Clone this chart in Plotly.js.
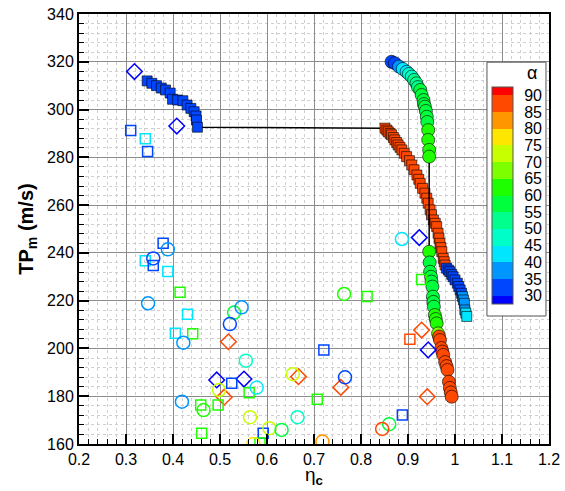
<!DOCTYPE html>
<html>
<head>
<meta charset="utf-8">
<script src="https://cdn.plot.ly/plotly-3.0.1.min.js"></script>
<style>html,body{margin:0;padding:0;background:#fff;}#chart{width:565px;height:491px;}</style>
</head>
<body>
<div id="chart"></div>
<script>
// ---- data ----
// filled squares path (eta_c, TP_m, alpha)
var sqPathX = [0.345,0.355,0.365,0.375,0.384,0.394,0.399,0.410,0.421,0.430,0.438,0.445,0.449,0.450,0.452,
  0.851,0.855,0.858,0.862,0.865,0.869,0.872,0.876,0.879,0.883,0.887,0.892,0.897,0.903,0.908,0.913,0.919,0.923,0.926,0.931,0.936,0.940,0.943,0.947,0.950,0.954,0.958,0.961,0.964,0.966,0.968,0.970,0.972,0.975,0.977,0.979,
  0.982,0.986,0.989,0.993,0.996,1.000,1.005,1.008,1.011,1.014,1.016,1.018,1.020,1.021,1.023,1.025];
var sqPathY = [312.0,311.0,310.0,309.0,308.2,306.9,304.3,304.0,303.7,301.9,300.5,299.1,297.3,295.6,292.6,
  292.2,291.4,290.7,290.0,289.4,288.3,287.3,286.2,285.2,284.2,283.1,281.7,280.3,278.6,276.8,274.8,272.6,270.8,269.1,267.0,265.0,262.9,260.8,258.0,256.0,253.8,252.4,251.0,248.2,246.2,244.0,242.2,240.5,237.7,236.3,234.9,
  233.6,232.8,232.1,231.0,230.0,228.7,227.3,225.9,224.5,223.1,221.7,220.3,218.9,216.1,214.8,213.4];
var sqPathA = [33,33,33,33,33,33,33,33,33,33,33,33,33,33,33,
  86,86,86,86,86,86,86,86,86,86,86,86,86,86,86,86,86,86,86,86,86,86,86,86,86,86,86,86,86,86,86,86,86,86,86,86,
  33,33,33,33,33,33,33,34,34,34,35,36,37,38,43,43];

// filled circles path
var ciPathX = [0.865,0.872,0.881,0.889,0.897,0.902,0.908,0.913,0.918,0.921,0.926,0.929,0.933,0.934,0.936,0.938,0.940,0.941,0.943,0.943,0.945,0.945,
  0.945,0.946,0.947,0.949,0.950,0.952,0.953,0.954,0.955,0.957,0.959,0.961,0.964,0.966,0.968,0.971,0.973,0.975,0.979,0.982,0.984,0.987,0.989,0.991,0.993];
var ciPathY = [320.0,319.4,318.0,317.0,315.8,314.9,313.8,312.4,311.0,309.4,308.2,306.1,304.0,302.3,301.2,299.4,297.0,294.8,291.4,287.3,283.1,280.3,
  240.5,236.0,232.1,230.0,228.0,225.9,221.7,219.5,217.5,214.0,212.3,210.5,206.3,205.0,203.5,200.2,198.7,197.3,194.3,192.6,191.0,186.1,183.5,181.6,179.8];
var ciPathA = [33,34,37,40,43,45,48,50,52,53,55,55,56,56,57,57,58,58,60,62,62,62,
  62,58,57,57,56,57,56,57,57,60,62,63,66,86,86,86,86,86,86,86,86,86,86,86,86];

// open diamonds
var diaX = [0.318,0.408,0.518,0.667,0.757,0.493,0.551,0.509,0.929,0.943,0.941,0.924];
var diaY = [315.9,293.1,202.8,188.2,183.7,186.8,187.2,179.6,207.7,199.4,179.8,246.4];
var diaA = [29,29,87,87,87,29,29,87,87,29,87,29];

// open squares
var osqX = [0.310,0.341,0.346,0.379,0.341,0.358,0.389,0.415,0.431,0.405,0.442,0.813,0.721,0.525,0.562,0.707,0.459,0.496,0.461,0.592,0.904,0.888,0.929,0.585];
var osqY = [291.2,287.8,282.4,244.0,236.7,234.7,232.2,223.5,214.3,206.4,206.1,221.7,199.4,185.4,181.5,178.7,176.3,176.3,164.5,164.5,203.8,172.1,228.9,160.4];
var osqA = [32,42,32,31,42,31,42,62,42,42,62,62,32,32,62,62,62,62,62,32,87,32,62,62];

// open circles
var ociX = [0.389,0.358,0.347,0.422,0.530,0.546,0.521,0.764,0.555,0.655,0.766,0.578,0.498,0.419,0.465,0.564,0.665,0.605,0.631,0.571,0.718,0.887,0.860,0.845];
var ociY = [241.5,237.7,218.9,202.4,215.0,217.2,210.2,222.8,194.9,189.2,187.9,183.6,182.6,177.7,174.2,171.2,171.2,166.6,165.9,160.0,161.0,245.8,168.3,166.3];
var ociA = [37,33,37,37,57,37,33,62,46,72,34,43,72,37,62,70,47,72,55,77,82,42,57,87];

// colour levels
var levelTicks = [30,35,40,45,50,55,60,65,70,75,80,85,90];
var levelBounds = [27.5,30,35,40,45,50,55,60,65,70,75,80,85,90,92.5];
var levelColors = ['#0000ff','#0046ff','#0096ff','#00e6ff','#00ffc8','#00ff8c','#00ff3c','#1eff00','#7dff00','#c8ff00','#ffe600','#ff9600','#ff4800','#ff0000'];

// ---- build ----
var lo = levelBounds[0], hi = levelBounds[levelBounds.length-1];
var cs = [];
for (var i = 0; i < levelColors.length; i++) {
  cs.push([(levelBounds[i]-lo)/(hi-lo), levelColors[i]]);
  cs.push([(levelBounds[i+1]-lo)/(hi-lo), levelColors[i]]);
}

var FONT = 'Liberation Sans, Arial, Helvetica, sans-serif';

var traces = [
  {x: sqPathX, y: sqPathY, type: 'scatter', mode: 'lines+markers',
   line: {color: '#000', width: 1.5},
   marker: {symbol: 'square', size: 10, color: sqPathA, coloraxis: 'coloraxis', line: {color: '#000', width: 0.6}},
   showlegend: false, hoverinfo: 'x+y'},
  {x: ciPathX, y: ciPathY, type: 'scatter', mode: 'lines+markers',
   line: {color: '#000', width: 1.5},
   marker: {symbol: 'circle', size: 13, color: ciPathA, coloraxis: 'coloraxis', line: {color: '#000', width: 0.6}},
   showlegend: false, hoverinfo: 'x+y'},
  {x: diaX, y: diaY, type: 'scatter', mode: 'markers',
   marker: {symbol: 'diamond-open', size: 12, color: diaA, coloraxis: 'coloraxis', line: {width: 1.5}},
   showlegend: false},
  {x: osqX, y: osqY, type: 'scatter', mode: 'markers',
   marker: {symbol: 'square-open', size: 10, color: osqA, coloraxis: 'coloraxis', line: {width: 1.5}},
   showlegend: false},
  {x: ociX, y: ociY, type: 'scatter', mode: 'markers',
   marker: {symbol: 'circle-open', size: 13, color: ociA, coloraxis: 'coloraxis', line: {width: 1.5}},
   showlegend: false}
];

var axisCommon = {
  ticks: 'inside', ticklen: 10, tickwidth: 2, tickcolor: '#000',
  showline: true, linewidth: 2, linecolor: '#000', mirror: true,
  showgrid: true, gridcolor: '#8c8c8c', gridwidth: 1,
  zeroline: false,
  tickfont: {family: FONT, size: 16, color: '#000'}
};

var layout = {
  width: 565, height: 491,
  margin: {l: 79, r: 16, t: 14, b: 47},
  paper_bgcolor: '#fff', plot_bgcolor: '#fff',
  font: {family: FONT, color: '#000'},
  xaxis: Object.assign({}, axisCommon, {
    range: [0.2, 1.2], dtick: 0.1, tick0: 0.2,
    minor: {dtick: 0.02, ticks: 'inside', ticklen: 5, tickwidth: 1, tickcolor: '#000', showgrid: true, gridcolor: '#cfcfcf', griddash: 'dot', gridwidth: 1}
  }),
  yaxis: Object.assign({}, axisCommon, {
    range: [160, 340], dtick: 20, tick0: 160,
    minor: {dtick: 4, ticks: 'inside', ticklen: 5, tickwidth: 1, tickcolor: '#000', showgrid: true, gridcolor: '#cfcfcf', griddash: 'dot', gridwidth: 1},
    title: {text: '<b>TP<sub>m</sub> (m/s)</b>', font: {family: FONT, size: 20, color: '#000'}, standoff: 8}
  }),
  coloraxis: {
    cmin: lo, cmax: hi, colorscale: cs,
    colorbar: {
      x: 0.8787, xanchor: 'left', xref: 'paper', y: 0.578, yanchor: 'middle', yref: 'paper',
      xpad: 0, ypad: 0, thickness: 21, thicknessmode: 'pixels', len: 217, lenmode: 'pixels',
      outlinewidth: 1, outlinecolor: '#555', bgcolor: 'rgba(0,0,0,0)', borderwidth: 0,
      tickmode: 'array', tickvals: levelTicks, ticktext: levelTicks.map(String),
      ticks: 'outside', ticklen: 8, tickcolor: 'rgba(0,0,0,0)',
      tickfont: {family: FONT, size: 16, color: '#000'}
    }
  },
  shapes: [
    {type: 'rect', xref: 'paper', yref: 'paper', x0: 0.868, x1: 0.9936, y0: 0.2977, y1: 0.888,
     fillcolor: '#fff', line: {color: '#555', width: 1}, layer: 'above'}
  ],
  annotations: [
    {xref: 'paper', yref: 'paper', x: 0.9638, y: 0.8628, text: 'α', showarrow: false,
     font: {family: FONT, size: 18, color: '#000'}, xanchor: 'center', yanchor: 'middle'},
    {xref: 'paper', yref: 'paper', x: 0.5, y: -0.0744, text: 'η<sub><b>c</b></sub>', showarrow: false,
     font: {family: FONT, size: 19, color: '#000'}, xanchor: 'center', yanchor: 'middle', borderpad: 0}
  ]
};

Plotly.newPlot('chart', traces, layout, {staticPlot: true, displayModeBar: false});
</script>
</body>
</html>
